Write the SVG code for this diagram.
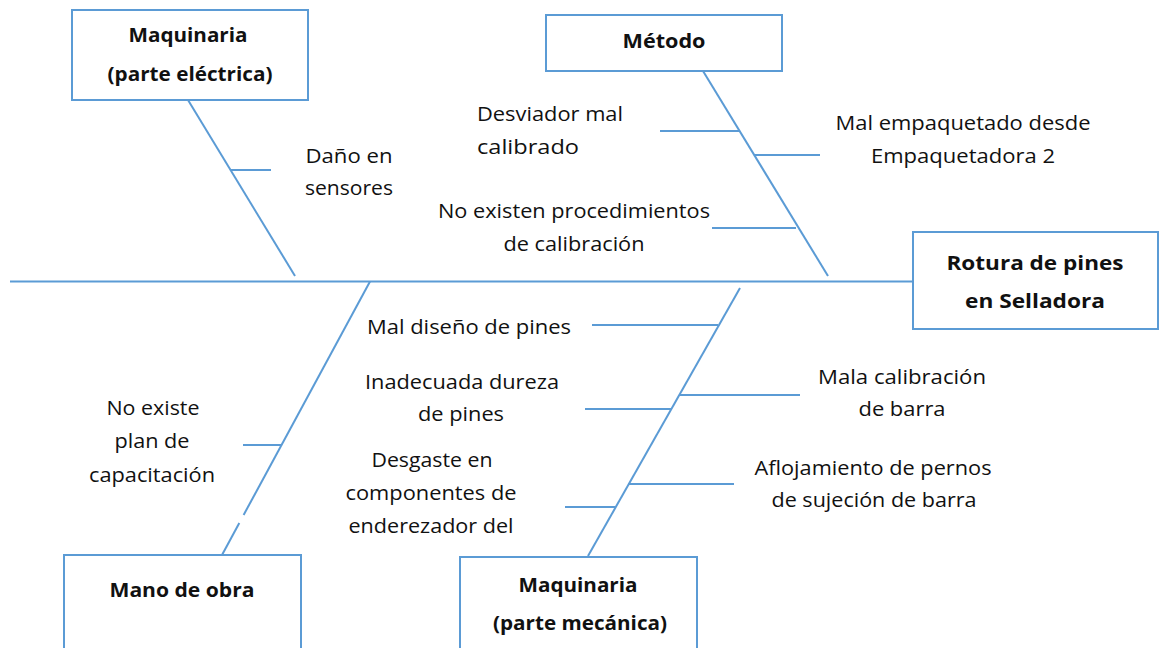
<svg xmlns="http://www.w3.org/2000/svg" width="1160" height="648" viewBox="0 0 1160 648">
<style>
.ln{stroke:#5B9BD5;stroke-width:2;fill:none}
.bx{stroke:#5B9BD5;stroke-width:2;fill:#fff}
.t{font-family:"Open Sans","Liberation Sans",sans-serif;font-size:20px;fill:#111}
.b{font-family:"Open Sans","Liberation Sans",sans-serif;font-size:20px;font-weight:bold;fill:#111}
.c{text-anchor:middle}
</style>
<rect width="1160" height="648" fill="#fff"/>
<g id="connectors">
<line class="ln" x1="10" y1="281.5" x2="913" y2="281.5"/>
<line class="ln" x1="188" y1="100" x2="295" y2="276"/>
<line class="ln" x1="230" y1="170" x2="271" y2="170"/>
<line class="ln" x1="703" y1="71" x2="828" y2="276"/>
<line class="ln" x1="660" y1="131" x2="740" y2="131"/>
<line class="ln" x1="754" y1="155" x2="820" y2="155"/>
<line class="ln" x1="712" y1="228" x2="796" y2="228"/>
<line class="ln" x1="370" y1="281.5" x2="243.6" y2="515"/>
<line class="ln" x1="239.3" y1="523" x2="222" y2="555"/>
<line class="ln" x1="243" y1="445" x2="281" y2="445"/>
<line class="ln" x1="740" y1="288" x2="588" y2="556"/>
<line class="ln" x1="592" y1="325" x2="718" y2="325"/>
<line class="ln" x1="680" y1="395" x2="800" y2="395"/>
<line class="ln" x1="585" y1="409" x2="671" y2="409"/>
<line class="ln" x1="628" y1="484" x2="734" y2="484"/>
<line class="ln" x1="565" y1="507" x2="615" y2="507"/>
</g>
<g id="node-maq-electrica">
<rect class="bx" x="72" y="10" width="236" height="90"/>
<text class="b c" x="188" y="42" textLength="119" lengthAdjust="spacingAndGlyphs">Maquinaria</text>
<text class="b c" x="190" y="81" textLength="165" lengthAdjust="spacingAndGlyphs">(parte eléctrica)</text>
</g>
<g id="node-metodo">
<rect class="bx" x="546" y="15" width="236" height="56"/>
<text class="b c" x="664" y="48" textLength="83" lengthAdjust="spacingAndGlyphs">Método</text>
</g>
<g id="node-efecto">
<rect class="bx" x="913" y="232" width="245" height="97"/>
<text class="b c" x="1035" y="270" textLength="177" lengthAdjust="spacingAndGlyphs">Rotura de pines</text>
<text class="b c" x="1035" y="308" textLength="140" lengthAdjust="spacingAndGlyphs">en Selladora</text>
</g>
<g id="node-mano-obra">
<rect class="bx" x="64" y="555" width="237" height="100"/>
<text class="b c" x="182" y="597" textLength="145" lengthAdjust="spacingAndGlyphs">Mano de obra</text>
</g>
<g id="node-maq-mecanica">
<rect class="bx" x="460" y="557" width="237" height="100"/>
<text class="b c" x="578" y="592" textLength="119" lengthAdjust="spacingAndGlyphs">Maquinaria</text>
<text class="b c" x="580" y="630" textLength="174" lengthAdjust="spacingAndGlyphs">(parte mecánica)</text>
</g>
<g id="cause-dano-sensores">
<text class="t c" x="349" y="163" textLength="87" lengthAdjust="spacingAndGlyphs">Daño en</text>
<text class="t c" x="349" y="195" textLength="88" lengthAdjust="spacingAndGlyphs">sensores</text>
</g>
<g id="cause-desviador">
<text class="t" x="477" y="121" textLength="146" lengthAdjust="spacingAndGlyphs">Desviador mal</text>
<text class="t" x="477" y="154" textLength="102" lengthAdjust="spacingAndGlyphs">calibrado</text>
</g>
<g id="cause-empaquetado">
<text class="t c" x="963" y="130" textLength="255" lengthAdjust="spacingAndGlyphs">Mal empaquetado desde</text>
<text class="t c" x="963" y="163" textLength="184" lengthAdjust="spacingAndGlyphs">Empaquetadora 2</text>
</g>
<g id="cause-procedimientos">
<text class="t c" x="574" y="218" textLength="272" lengthAdjust="spacingAndGlyphs">No existen procedimientos</text>
<text class="t c" x="574" y="251" textLength="141" lengthAdjust="spacingAndGlyphs">de calibración</text>
</g>
<g id="cause-diseno">
<text class="t" x="367" y="334" textLength="204" lengthAdjust="spacingAndGlyphs">Mal diseño de pines</text>
</g>
<g id="cause-dureza">
<text class="t c" x="462" y="389" textLength="194" lengthAdjust="spacingAndGlyphs">Inadecuada dureza</text>
<text class="t c" x="461" y="421" textLength="86" lengthAdjust="spacingAndGlyphs">de pines</text>
</g>
<g id="cause-calibracion-barra">
<text class="t c" x="902" y="384" textLength="168" lengthAdjust="spacingAndGlyphs">Mala calibración</text>
<text class="t c" x="902" y="416" textLength="87" lengthAdjust="spacingAndGlyphs">de barra</text>
</g>
<g id="cause-capacitacion">
<text class="t c" x="153" y="415" textLength="93" lengthAdjust="spacingAndGlyphs">No existe</text>
<text class="t c" x="152" y="448" textLength="75" lengthAdjust="spacingAndGlyphs">plan de</text>
<text class="t c" x="152" y="482" textLength="126" lengthAdjust="spacingAndGlyphs">capacitación</text>
</g>
<g id="cause-desgaste">
<text class="t c" x="432" y="467" textLength="121" lengthAdjust="spacingAndGlyphs">Desgaste en</text>
<text class="t c" x="431" y="500" textLength="171" lengthAdjust="spacingAndGlyphs">componentes de</text>
<text class="t c" x="431" y="533" textLength="165" lengthAdjust="spacingAndGlyphs">enderezador del</text>
</g>
<g id="cause-aflojamiento">
<text class="t c" x="873" y="475" textLength="237" lengthAdjust="spacingAndGlyphs">Aflojamiento de pernos</text>
<text class="t c" x="874" y="507" textLength="205" lengthAdjust="spacingAndGlyphs">de sujeción de barra</text>
</g>
</svg>
